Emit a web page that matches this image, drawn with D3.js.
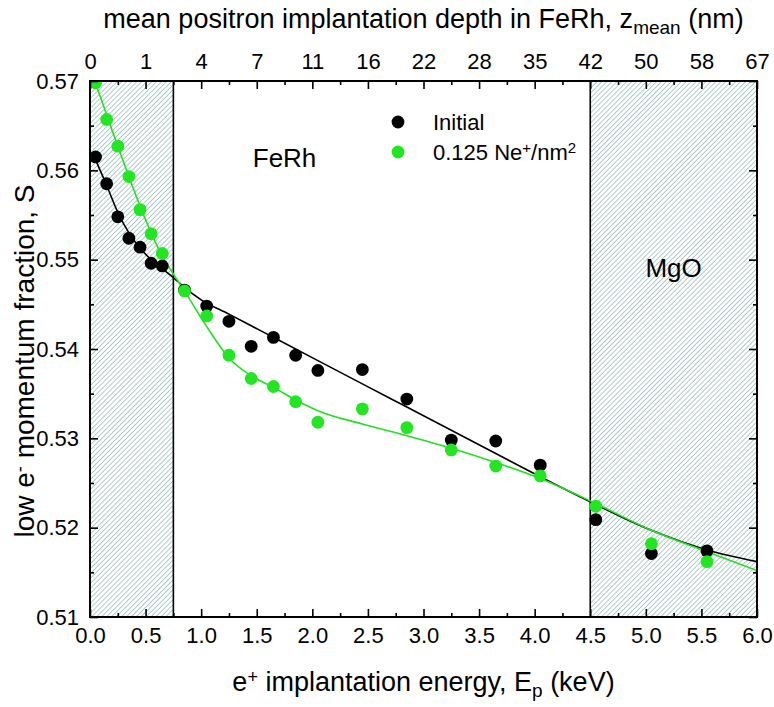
<!DOCTYPE html>
<html><head><meta charset="utf-8">
<script src="https://cdn.jsdelivr.net/npm/d3@7"></script>
<style>body{margin:0;background:#fff}svg{font-family:"Liberation Sans",Arial,sans-serif}</style>
</head><body>
<svg id="c" width="774" height="707"></svg>
<script>
// ---- data ----
const energyInitial = [0.05,0.15,0.25,0.35,0.45,0.55,0.65,0.85,1.05,1.25,1.45,1.65,1.85,2.05,2.45,2.85,3.25,3.65,4.05,4.55,5.05,5.55];
const sInitial      = [0.5615,0.5585,0.5548,0.5524,0.5514,0.5496,0.5493,0.5466,0.5448,0.5431,0.5403,0.5413,0.5393,0.5376,0.5377,0.5344,0.5298,0.5297,0.5270,0.5209,0.5171,0.5174];
const energyNe      = [0.05,0.15,0.25,0.35,0.45,0.55,0.65,0.85,1.05,1.25,1.45,1.65,1.85,2.05,2.45,2.85,3.25,3.65,4.05,4.55,5.05,5.55];
const sNe           = [0.5698,0.5657,0.5627,0.5593,0.5556,0.5529,0.5507,0.5465,0.5437,0.5393,0.5367,0.5358,0.5341,0.5318,0.5333,0.5312,0.5287,0.5269,0.5258,0.5224,0.5182,0.5162];
// fitted curves
const fitEnergyInitial = [0.03,0.05,0.15,0.25,0.35,0.45,0.55,0.65,0.75,0.85,1.0,1.25,1.65,2.05,2.45,2.85,3.25,3.65,4.05,4.5,5.05,5.55,6.0];
const fitSInitial      = [0.5618,0.5612,0.5583,0.5553,0.5530,0.5513,0.5500,0.5490,0.5480,0.5469,0.5455,0.5439,0.5413,0.5387,0.5361,0.5335,0.5309,0.5283,0.5257,0.5229,0.5197,0.5175,0.5162];
const fitEnergyNe = [0.0,0.05,0.15,0.25,0.35,0.45,0.55,0.65,0.75,0.85,1.05,1.25,1.45,1.65,1.85,2.05,2.45,2.85,3.25,3.65,4.05,4.55,5.05,5.55,6.0];
const fitSNe      = [0.5712,0.5697,0.5662,0.5627,0.5593,0.5560,0.5530,0.5504,0.5484,0.5465,0.5425,0.5390,0.5370,0.5357,0.5343,0.5331,0.5316,0.5303,0.5289,0.5273,0.5255,0.5227,0.5197,0.5173,0.5152];
const depthLabels = ["0","1","4","7","11","16","22","28","35","42","50","58","67"];
const regionBounds = [0.75, 4.5];
const seriesNames = ["Initial", "0.125 Ne"];

// ---- layout ----
const L=90, R=757, T=81, B=617;
const svg=d3.select("#c");
const x=d3.scaleLinear().domain([0,6]).range([L,R]);
const y=d3.scaleLinear().domain([0.51,0.57]).range([B,T]);

const defs=svg.append("defs");
const P=3.5;
const pat=defs.append("pattern").attr("id","hatch").attr("patternUnits","userSpaceOnUse")
  .attr("width",P).attr("height",P).attr("patternTransform","rotate(45)");
pat.append("rect").attr("width",P).attr("height",P).attr("fill","#fff");
pat.append("line").attr("x1",0).attr("y1",0).attr("x2",0).attr("y2",P)
  .attr("stroke","#98bcba").attr("stroke-width",1.5);
defs.append("clipPath").attr("id","clip").append("rect")
  .attr("x",L).attr("y",T).attr("width",R-L).attr("height",B-T);

// hatched regions
svg.append("rect").attr("x",x(0)).attr("y",T).attr("width",x(regionBounds[0])-x(0)).attr("height",B-T).attr("fill","url(#hatch)");
svg.append("rect").attr("x",x(regionBounds[1])).attr("y",T).attr("width",x(6)-x(regionBounds[1])).attr("height",B-T).attr("fill","url(#hatch)");
regionBounds.forEach(b=>svg.append("line").attr("x1",x(b)).attr("x2",x(b)).attr("y1",T).attr("y2",B).attr("stroke","#000").attr("stroke-width",1.6));

const g=svg.append("g").attr("clip-path","url(#clip)");
const line=d3.line().x(d=>x(d[0])).y(d=>y(d[1])).curve(d3.curveMonotoneX);
g.append("path").datum(fitEnergyInitial.map((e,i)=>[e,fitSInitial[i]])).attr("d",line)
  .attr("fill","none").attr("stroke","#000").attr("stroke-width",1.6);
g.append("path").datum(fitEnergyNe.map((e,i)=>[e,fitSNe[i]])).attr("d",line)
  .attr("fill","none").attr("stroke","#22e022").attr("stroke-width",1.6);
const black="#000", green="#22e622";
const RAD=6.4;
g.selectAll(".pb").data(energyInitial.map((e,i)=>[e,sInitial[i]])).enter().append("circle")
  .attr("cx",d=>x(d[0])).attr("cy",d=>y(d[1])).attr("r",RAD).attr("fill",black);
g.selectAll(".pg").data(energyNe.map((e,i)=>[e,sNe[i]])).enter().append("circle")
  .attr("cx",d=>x(d[0])).attr("cy",d=>y(d[1])).attr("r",RAD).attr("fill",green);

// axes
const major=d3.range(0,6.001,0.5), minor=d3.range(0.25,6,0.5);
function styleAxis(sel){sel.select(".domain").remove();sel.selectAll("line").attr("stroke","#000").attr("stroke-width",1.6);sel.selectAll("text").attr("fill","#000").style("font-size","22px").style("font-family","Liberation Sans, Arial, sans-serif");}
svg.append("g").attr("transform",`translate(0,${B})`).call(d3.axisBottom(x).tickValues(major).tickSize(-8).tickPadding(10).tickFormat(d3.format(".1f"))).call(styleAxis);
svg.append("g").attr("transform",`translate(0,${B})`).call(d3.axisBottom(x).tickValues(minor).tickSize(-4).tickFormat("")).call(styleAxis);
svg.append("g").attr("transform",`translate(0,${T})`).call(d3.axisTop(x).tickValues(major).tickSize(-8).tickPadding(12).tickFormat((d,i)=>depthLabels[i])).call(styleAxis);
svg.append("g").attr("transform",`translate(0,${T})`).call(d3.axisTop(x).tickValues(minor).tickSize(-4).tickFormat("")).call(styleAxis);
const yMajor=d3.range(0.51,0.5701,0.01), yMinor=d3.range(0.515,0.57,0.01);
svg.append("g").attr("transform",`translate(${L},0)`).call(d3.axisLeft(y).tickValues(yMajor).tickSize(-8).tickPadding(11).tickFormat(d3.format(".2f"))).call(styleAxis);
svg.append("g").attr("transform",`translate(${L},0)`).call(d3.axisLeft(y).tickValues(yMinor).tickSize(-4).tickFormat("")).call(styleAxis);
svg.append("g").attr("transform",`translate(${R},0)`).call(d3.axisRight(y).tickValues(yMajor).tickSize(-8).tickFormat("")).call(styleAxis);
svg.append("g").attr("transform",`translate(${R},0)`).call(d3.axisRight(y).tickValues(yMinor).tickSize(-4).tickFormat("")).call(styleAxis);
svg.append("rect").attr("x",L).attr("y",T).attr("width",R-L).attr("height",B-T).attr("fill","none").attr("stroke","#000").attr("stroke-width",2);

// titles
const t1=svg.append("text").attr("x",(L+R)/2).attr("y",28).attr("text-anchor","middle").style("font-size","27px");
t1.append("tspan").text("mean positron implantation depth in FeRh, z");
t1.append("tspan").text("mean").attr("baseline-shift","-30%").style("font-size","19px");
t1.append("tspan").text(" (nm)");
const t2=svg.append("text").attr("x",(L+R)/2).attr("y",691).attr("text-anchor","middle").style("font-size","27px");
t2.append("tspan").text("e");
t2.append("tspan").text("+").attr("baseline-shift","45%").style("font-size","18px");
t2.append("tspan").text(" implantation energy, E");
t2.append("tspan").text("p").attr("baseline-shift","-30%").style("font-size","19px");
t2.append("tspan").text(" (keV)");
const t3=svg.append("text").attr("transform",`translate(34,${(T+B)/2+12}) rotate(-90)`).attr("text-anchor","middle").style("font-size","28px");
t3.append("tspan").text("low e");
t3.append("tspan").text("-").attr("baseline-shift","45%").style("font-size","18px");
t3.append("tspan").text(" momentum fraction, S");

// region labels
svg.append("text").attr("x",x(1.75)).attr("y",167).attr("text-anchor","middle").style("font-size","26px").text("FeRh");
svg.append("text").attr("x",x(5.25)).attr("y",277).attr("text-anchor","middle").style("font-size","26px").text("MgO");

// legend
const lg=svg.append("g");
lg.append("circle").attr("cx",398).attr("cy",122).attr("r",RAD).attr("fill",black);
lg.append("circle").attr("cx",398).attr("cy",152).attr("r",RAD).attr("fill",green);
lg.append("text").attr("x",433).attr("y",130).style("font-size","22px").text(seriesNames[0]);
const lt=lg.append("text").attr("x",433).attr("y",160).style("font-size","22px");
lt.append("tspan").text(seriesNames[1]);
lt.append("tspan").text("+").attr("baseline-shift","45%").style("font-size","15px");
lt.append("tspan").text("/nm");
lt.append("tspan").text("2").attr("baseline-shift","45%").style("font-size","15px");
</script>
</body></html>
